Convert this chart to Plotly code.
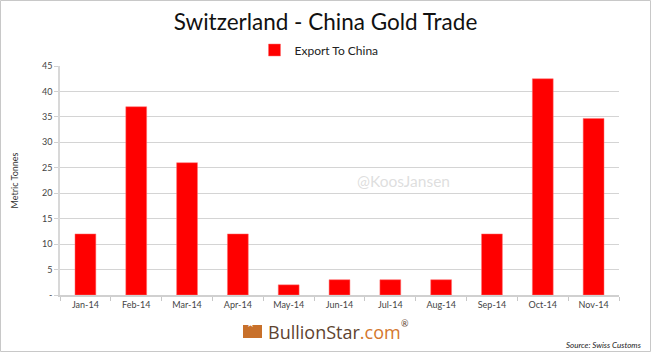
import plotly.graph_objects as go

months = ["Jan-14", "Feb-14", "Mar-14", "Apr-14", "May-14", "Jun-14",
          "Jul-14", "Aug-14", "Sep-14", "Oct-14", "Nov-14"]
export_to_china = [12, 37, 26, 12, 2, 3, 3, 3, 12, 42.5, 34.7]
ytick_vals = [0, 5, 10, 15, 20, 25, 30, 35, 40, 45]
ytick_text = ["-", "5", "10", "15", "20", "25", "30", "35", "40", "45"]

W, H = 651, 352
L, R, T, B = 60, 32, 66, 57
PW, PH = W - L - R, H - T - B

def px(x):
    return (x - L) / PW

def py(y):
    return (H - B - y) / PH

fig = go.Figure()
fig.add_trace(go.Bar(
    x=months, y=export_to_china, name="Export To China",
    marker=dict(color="#ff0000", line=dict(color="#ff7070", width=0.5)),
))

font_main = "Lato, Open Sans, sans-serif"

fig.update_layout(
    width=W, height=H,
    margin=dict(l=L, r=R, t=T, b=B),
    paper_bgcolor="white", plot_bgcolor="white",
    bargap=0.59,
    showlegend=True,
    legend=dict(orientation="h", x=px(319), xanchor="center", y=py(50), yanchor="middle",
                font=dict(family=font_main, size=12, color="#222"),
                itemwidth=30),
    title=dict(text="Switzerland - China Gold Trade", x=0.5, xanchor="center",
               y=1 - 22 / H, yanchor="middle",
               font=dict(family=font_main, size=22.5, color="#111")),
    xaxis=dict(type="category", showgrid=False, showline=True, linecolor="#d0d0d0",
               linewidth=1.5, ticks="outside", tickson="boundaries", ticklen=4,
               tickcolor="#c8c8c8", tickfont=dict(family=font_main, size=9, color="#444")),
    yaxis=dict(range=[0, 45], tickvals=ytick_vals, ticktext=ytick_text,
               showgrid=True, gridcolor="#d4d4d4", gridwidth=1, zeroline=False,
               showline=True, linecolor="#d8d8d8", linewidth=1.5,
               ticks="outside", ticklen=4, tickcolor="#d0d0d0",
               tickfont=dict(family=font_main, size=9, color="#444"),
               title=dict(text="Metric Tonnes", standoff=22,
                          font=dict(family=font_main, size=9, color="#333"))),
)

# Watermark
fig.add_annotation(text="@KoosJansen", xref="paper", yref="paper",
                   x=px(403), y=py(181), showarrow=False,
                   font=dict(family=font_main, size=15.5, color="rgba(200,200,200,0.6)"))

# Logo icon
fig.add_shape(type="rect", xref="paper", yref="paper",
              x0=px(243), x1=px(262), y0=py(338), y1=py(325),
              fillcolor="#c8702a", line=dict(width=0), layer="above")
fig.add_annotation(text="★", xref="paper", yref="paper", x=px(250), y=py(331.5),
                   showarrow=False, font=dict(size=10, color="white"))
fig.add_annotation(
    text="<span style='color:#5e4330'>BullionStar</span><span style='color:#d4772d'>.com</span>",
    xref="paper", yref="paper", x=px(266), y=py(332), xanchor="left", yanchor="middle",
    showarrow=False, font=dict(family="Open Sans, sans-serif", size=18))
fig.add_annotation(text="®", xref="paper", yref="paper", x=px(405), y=py(331),
                   showarrow=False, font=dict(family=font_main, size=9, color="#5e4330"))

# Source
fig.add_annotation(text="<i>Source: Swiss Customs</i>", xref="paper", yref="paper",
                   x=px(644), y=py(345), xanchor="right", yanchor="middle", showarrow=False,
                   font=dict(family=font_main, size=8, color="#222"))

# Frame
fig.add_shape(type="rect", xref="paper", yref="paper",
              x0=px(0.5), x1=px(650.5), y0=py(351.5), y1=py(0.5),
              line=dict(color="#c8c8c8", width=1), fillcolor="rgba(0,0,0,0)")

fig.write_html("out.html")
